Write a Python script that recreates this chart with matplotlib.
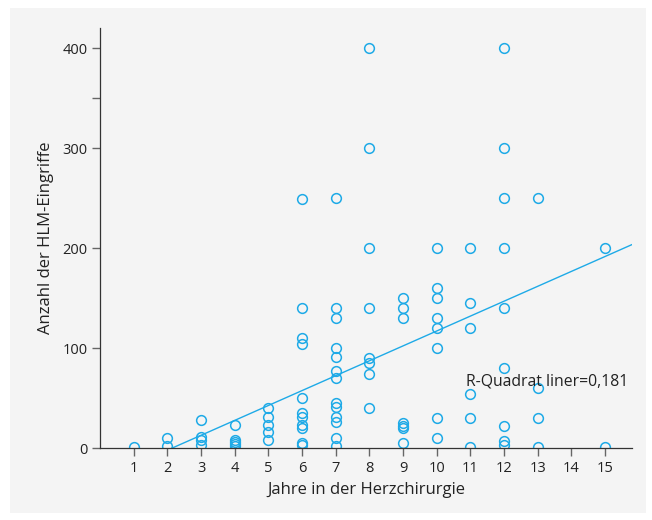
import numpy as np
import matplotlib.pyplot as plt
from matplotlib.patches import Rectangle

plt.rcParams['font.family'] = ['Open Sans', 'DejaVu Sans']

# Eingriffe pro Berufsjahr
jahre = [1, 2, 3, 4, 5, 6, 7, 8, 9, 10, 11, 12, 13, 15]
eingriffe = [
    [1],
    [10, 2],
    [28, 11, 8, 3],
    [23, 8, 6, 4, 2],
    [40, 31, 23, 16, 8],
    [249, 140, 110, 104, 50, 35, 31, 23, 20, 5, 3],
    [250, 140, 130, 100, 91, 77, 70, 45, 41, 31, 26, 10, 2],
    [400, 300, 200, 140, 90, 85, 74, 40],
    [150, 140, 130, 25, 22, 20, 5],
    [200, 160, 150, 130, 120, 100, 30, 10],
    [200, 145, 120, 54, 30, 1],
    [400, 300, 250, 200, 140, 80, 22, 7, 3],
    [250, 60, 30, 1],
    [200, 1],
]
# Regressionsgerade wie im Original
fit_slope = 14.9
fit_intercept = -32
r2_text = "R-Quadrat liner=0,181"

x = np.concatenate([[j] * len(v) for j, v in zip(jahre, eingriffe)])
y = np.concatenate(eingriffe)

blue = "#1eaae7"
panel = "#f4f4f4"

fig = plt.figure(figsize=(6.52, 5.2), dpi=100)
fig.patches.append(Rectangle((10 / 652, 7 / 520), 636 / 652, 505 / 520,
                             transform=fig.transFigure, facecolor=panel,
                             edgecolor="none", zorder=-1))
ax = fig.add_axes([100 / 652, 72 / 520, 532 / 652, 420 / 520])
ax.set_facecolor(panel)

ax.plot(x, y, "o", mfc="none", mec=blue, ms=7, mew=1.1)
xs = np.array([0, 15.8])
ax.plot(xs, fit_slope * xs + fit_intercept, color=blue, lw=1)

ax.set_xlim(0, 15.8)
ax.set_ylim(0, 420)
ax.set_xticks(range(1, 16))
ax.set_yticks([0, 100, 200, 300, 350, 400])
ax.set_yticklabels(["0", "100", "200", "300", "", "400"])

for s in ["top", "right"]:
    ax.spines[s].set_visible(False)
for s in ["left", "bottom"]:
    ax.spines[s].set_color("#333333")
    ax.spines[s].set_linewidth(0.9)
ax.tick_params(direction="out", length=6, width=1, color="#666666",
               labelsize=10.5, labelcolor="#222222", pad=3)

ax.set_xlabel("Jahre in der Herzchirurgie", fontsize=12, color="#222222", labelpad=5)
ax.set_ylabel("Anzahl der HLM-Eingriffe", fontsize=12, color="#222222", labelpad=6)

ax.text(10.88, 67, r2_text, fontsize=11.3, color="#222222", va="center", ha="left")

fig.savefig("out.png", dpi=100)
